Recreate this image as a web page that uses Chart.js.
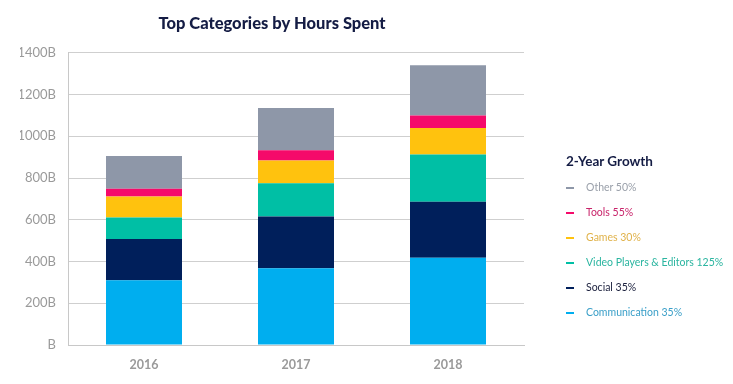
<!DOCTYPE html>
<html>
<head>
<meta charset="utf-8">
<script src="https://cdn.jsdelivr.net/npm/chart.js@4"></script>
<style>
  body { margin: 0; background: #fff; }
  #wrap { position: relative; width: 733px; height: 384px; }
  #legend { position: absolute; left: 566px; top: 150px; font-family: Lato, sans-serif; }
  #legend .ttl { font-weight: bold; font-size: 13.5px; color: #141c44; height: 25px; line-height: 23px; }
  #legend .item { height: 25px; line-height: 25px; font-size: 10.5px; white-space: nowrap; }
  #legend .dash { display: inline-block; width: 8px; height: 2px; vertical-align: middle; margin-right: 12px; }
</style>
</head>
<body>
<div id="wrap">
  <canvas id="myChart" width="733" height="384"></canvas>
  <div id="legend"></div>
</div>
<script>
const years = ["2016", "2017", "2018"];
const communication = [310, 368, 418];
const social = [198, 248, 268];
const videoPlayers = [103, 159, 227];
const games = [100, 109, 127];
const tools = [38, 49, 60];
const other = [156, 202, 240];
const yTicks = [0, 200, 400, 600, 800, 1000, 1200, 1400];

const seriesNames = ["Communication 35%", "Social 35%", "Video Players & Editors 125%", "Games 30%", "Tools 55%", "Other 50%"];
const seriesData = [communication, social, videoPlayers, games, tools, other];
const barColors = ["#00aeef", "#001f5b", "#00bfa5", "#ffc20e", "#f50a6a", "#8e97a8"];
const textColors = ["#3a9fc8", "#1a1f3c", "#2bb5a0", "#e0b24a", "#c8246a", "#9aa0aa"];

const ctx = document.getElementById("myChart");

new Chart(ctx, {
  type: "bar",
  data: {
    labels: years,
    datasets: seriesData.map((d, i) => ({
      label: seriesNames[i],
      data: d,
      backgroundColor: barColors[i],
      borderWidth: 0,
      barPercentage: 1,
      categoryPercentage: 0.5
    }))
  },
  options: {
    responsive: false,
    animation: false,
    layout: { padding: { left: 20, right: 209, top: 0, bottom: 8 } },
    plugins: {
      legend: { display: false },
      tooltip: { enabled: false },
      title: {
        display: true,
        text: "Top Categories by Hours Spent",
        color: "#141c44",
        font: { family: "Lato", size: 16.5, weight: "900" },
        padding: { top: 14, bottom: 19 }
      }
    },
    scales: {
      x: {
        stacked: true,
        grid: { display: false },
        border: { color: "#c8c8c8" },
        ticks: { color: "#9a9a9a", font: { family: "Lato", size: 12.5, weight: "bold" }, padding: 4 }
      },
      y: {
        stacked: true,
        min: 0,
        max: 1400,
        afterBuildTicks: (axis) => { axis.ticks = yTicks.map(v => ({ value: v })); },
        afterFit: (axis) => { axis.width = 48; },
        grid: { color: "#cfcfcf", drawTicks: false },
        border: { color: "#c8c8c8" },
        ticks: {
          color: "#9a9a9a",
          font: { family: "Lato", size: 13 },
          padding: 12,
          callback: (v) => (v === 0 ? "" : v) + "B"
        }
      }
    }
  }
});

const legend = document.getElementById("legend");
let html = '<div class="ttl">2-Year Growth</div>';
for (let i = seriesNames.length - 1; i >= 0; i--) {
  html += '<div class="item" style="color:' + textColors[i] + '"><span class="dash" style="background:' + barColors[i] + '"></span>' + seriesNames[i] + '</div>';
}
legend.innerHTML = html;
</script>
</body>
</html>
